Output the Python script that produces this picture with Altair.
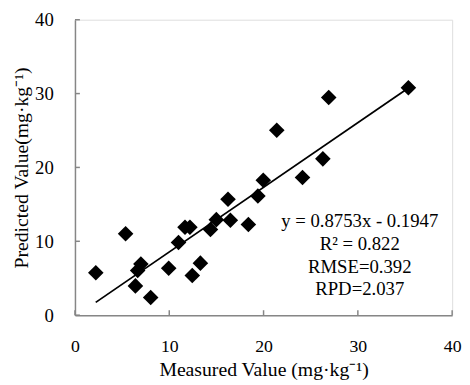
import altair as alt
import pandas as pd

# Data
measured = [35.36, 26.91, 21.40, 26.29, 24.13, 19.97, 19.40, 16.23, 16.48, 18.39,
            14.99, 14.37, 11.67, 12.19, 10.98, 5.37, 2.21, 6.99, 6.65, 6.41,
            8.03, 9.94, 12.44, 13.30]
predicted = [30.80, 29.47, 25.03, 21.16, 18.63, 18.27, 16.13, 15.69, 12.84, 12.27,
             12.93, 11.60, 11.91, 11.91, 9.83, 11.03, 5.73, 6.93, 6.04, 3.96,
             2.40, 6.36, 5.37, 7.04]

axis_ticks = [0, 10, 20, 30, 40]

# Fitted line as printed on the chart
slope = 0.8753
intercept = -0.1947
fit_x = [2.2, 35.4]

stats_lines = ["y = 0.8753x - 0.1947", "R² = 0.822", "RMSE=0.392", "RPD=2.037"]
stats_x = [30.2, 30.2, 30.2, 30.2]
stats_y = [12.0, 8.87, 5.73, 2.67]

FONT = "Liberation Serif, Times New Roman, serif"
GRAY = "#868686"

pts = pd.DataFrame({"m": measured, "p": predicted})
fit = pd.DataFrame({"m": fit_x})
ticks_df = pd.DataFrame({"v": axis_ticks})
stats = pd.DataFrame({"x": stats_x, "y": stats_y, "t": stats_lines})

xs = alt.Scale(domain=[0, 40], nice=False, zero=False)
ys = alt.Scale(domain=[0, 40], nice=False, zero=False)

xaxis = alt.Axis(values=axis_ticks, ticks=False, grid=False, domainColor=GRAY,
                 domainWidth=1.5, labelFont=FONT, labelFontSize=18, labelColor="black",
                 labelPadding=23, labelFlush=False,
                 title="Measured Value (mg·kg⁻¹)", titleFont=FONT, titleFontSize=20,
                 titleFontWeight="normal", titleColor="black", titleY=61,
                 titleBaseline="alphabetic")
yaxis = alt.Axis(values=axis_ticks, ticks=False, grid=False, domainColor=GRAY,
                 domainWidth=1.5, labelFont=FONT, labelFontSize=19, labelColor="black",
                 labelPadding=22, labelFlush=False,
                 title="Predicted Value(mg·kg⁻¹)", titleFont=FONT, titleFontSize=20,
                 titleFontWeight="normal", titleColor="black", titleX=-48, titleY=150,
                 titleAngle=-90, titleAlign="center", titleBaseline="alphabetic")

points = alt.Chart(pts).mark_point(shape="diamond", filled=True, color="black",
                                   size=250, opacity=1).encode(
    x=alt.X("m:Q", scale=xs, axis=xaxis),
    y=alt.Y("p:Q", scale=ys, axis=yaxis),
)

line = alt.Chart(fit).transform_calculate(
    p=f"{slope} * datum.m + ({intercept})"
).mark_line(color="black", strokeWidth=1.8).encode(
    x=alt.X("m:Q", scale=xs),
    y=alt.Y("p:Q", scale=ys),
)

ytick = alt.Chart(ticks_df).mark_rule(color=GRAY, strokeWidth=1.5).encode(
    y=alt.Y("v:Q", scale=ys),
    x=alt.value(0),
    x2=alt.value(5),
)
xtick = alt.Chart(ticks_df).mark_rule(color=GRAY, strokeWidth=1.5).encode(
    x=alt.X("v:Q", scale=xs),
    y=alt.value(300),
    y2=alt.value(295),
)

text = alt.Chart(stats).mark_text(font=FONT, fontSize=19, color="black",
                                  align="center", baseline="alphabetic").encode(
    x=alt.X("x:Q", scale=xs),
    y=alt.Y("y:Q", scale=ys),
    text="t:N",
)

chart = alt.layer(ytick, xtick, line, points, text).properties(
    width=383, height=300,
    autosize=alt.AutoSizeParams(type="none"),
    padding={"left": 68, "top": 9, "right": 10, "bottom": 66},
).configure_view(stroke=None).configure(background="white", font=FONT)

chart.save("out.html", embed_options={"renderer": "svg", "actions": False})
